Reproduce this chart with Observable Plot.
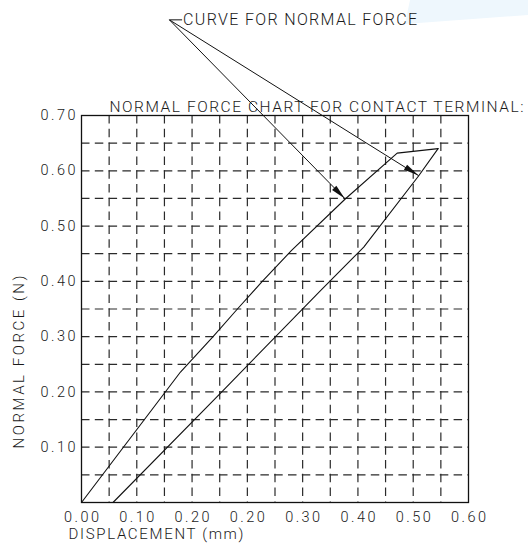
<!DOCTYPE html>
<html><head><meta charset="utf-8">
<script src="https://cdn.jsdelivr.net/npm/d3@7"></script>
<script src="https://cdn.jsdelivr.net/npm/@observablehq/plot@0.6"></script>
<style>
html,body{margin:0;padding:0;background:#fff;}
#wrap{position:relative;width:528px;height:549px;overflow:hidden;}
#tint{position:absolute;left:0;top:0;width:528px;height:40px;background:#eef7fd;clip-path:polygon(410px 0,528px 0,528px 15px,405px 24px);}
#chart{position:absolute;left:0;top:0;}
</style></head><body>
<div id="wrap"><div id="tint"></div><div id="chart"></div></div>
<script>
// Loading branch (upper-left curve) and unloading branch (lower-right line), read in grid units
const loadX = [0, 0.179, 0.238, 0.282, 0.327, 0.380, 0.477, 0.571, 0.645];
const loadY = [0, 0.236, 0.300, 0.350, 0.400, 0.456, 0.549, 0.632, 0.640];
const unloadX = [0.645, 0.610, 0.5105, 0.431, 0.256, 0.057];
const unloadY = [0.640, 0.591, 0.462, 0.382, 0.2025, 0];

// Grid and ticks
const gridVals = [0.05, 0.10, 0.15, 0.20, 0.25, 0.30, 0.35, 0.40, 0.45, 0.50, 0.55, 0.60, 0.65];
const xTicks = [0, 0.1, 0.2, 0.3, 0.4, 0.5, 0.6, 0.7];
const xTickLabels = ["0.00", "0.10", "0.20", "0.20", "0.30", "0.40", "0.50", "0.60"];
const yTicks = [0.1, 0.2, 0.3, 0.4, 0.5, 0.6, 0.7];
const yTickLabels = ["0.10", "0.20", "0.30", "0.40", "0.50", "0.60", "0.70"];

// Callout: leader origin and arrow tips (data units)
const calloutX = 0.159, calloutY = 0.873, calloutDashEnd = 0.182;
const tipX = [0.477, 0.610];
const tipY = [0.549, 0.591];

const titleText = "NORMAL FORCE CHART FOR CONTACT TERMINAL:";
const calloutText = "CURVE FOR NORMAL FORCE";
const xLabel = "DISPLACEMENT (mm)";
const yLabel = "NORMAL FORCE (N)";

const ink = "#1a1a1a";
const font = "Roboto, 'Liberation Sans', sans-serif";

const chart = Plot.plot({
  width: 528, height: 549,
  marginTop: 115, marginLeft: 81, marginRight: 60, marginBottom: 47,
  x: {domain: [0, 0.7], axis: null},
  y: {domain: [0, 0.7], axis: null},
  style: {fontFamily: font, background: "transparent", color: ink},
  marks: [
    Plot.ruleX(gridVals, {x: d => d, stroke: "#2a2a2a", strokeWidth: 1.2, strokeDasharray: "8.5,5.3"}),
    Plot.ruleY(gridVals, {y: d => d, stroke: "#2a2a2a", strokeWidth: 1.2, strokeDasharray: "8.5,5.3"}),
    Plot.frame({stroke: "#111", strokeWidth: 1.3}),
    Plot.line(loadX, {x: loadX, y: loadY, stroke: "#111", strokeWidth: 1.1}),
    Plot.line(unloadX, {x: unloadX, y: unloadY, stroke: "#111", strokeWidth: 1.1}),
    Plot.link(tipX, {x1: tipX.map(() => calloutX), y1: tipX.map(() => calloutY), x2: tipX, y2: tipY, stroke: "#111", strokeWidth: 1}),
    Plot.link([0], {x1: [calloutX], y1: [calloutY], x2: [calloutDashEnd], y2: [calloutY], stroke: "#111", strokeWidth: 1}),
    Plot.text(xTicks, {x: xTicks, text: xTickLabels, frameAnchor: "bottom", dy: 19, fontSize: 14.5, fill: ink, fontWeight: 300}),
    Plot.text(yTicks, {y: yTicks, text: yTickLabels, frameAnchor: "left", textAnchor: "end", dx: -6, fontSize: 14.5, fill: ink, fontWeight: 300}),
    Plot.text([titleText], {text: d => d, frameAnchor: "top-left", textAnchor: "start", dx: 28, dy: -15, fontSize: 15.5, fill: ink, fontWeight: 300}),
    Plot.text([calloutText], {x: [calloutDashEnd], y: [calloutY], text: d => d, textAnchor: "start", dx: 1, fontSize: 16, fill: ink, fontWeight: 300}),
    Plot.text([xLabel], {text: d => d, frameAnchor: "bottom-left", textAnchor: "start", dx: -13, dy: 36, fontSize: 15, fill: ink, fontWeight: 300}),
    Plot.text([yLabel], {text: d => d, frameAnchor: "bottom-left", textAnchor: "start", rotate: -90, dx: -58, dy: -54, fontSize: 15, fill: ink, fontWeight: 300})
  ]
});

document.getElementById("chart").appendChild(chart);

// Fit the wide CAD-style text lengths
const svg = d3.select(chart);
const lengths = new Map([[titleText, 414], [calloutText, 234], [xLabel, 175], [yLabel, 173]]);
svg.selectAll("text").each(function() {
  const t = this.textContent;
  if (lengths.has(t)) {
    d3.select(this).attr("textLength", lengths.get(t)).attr("lengthAdjust", "spacing");
  } else if (xTickLabels.includes(t) || yTickLabels.includes(t)) {
    d3.select(this).attr("textLength", 35).attr("lengthAdjust", "spacing");
  }
});

// Filled narrow arrowheads at the callout tips, positioned via Plot's scales
const sx = chart.scale("x"), sy = chart.scale("y");
const px0 = sx.apply(calloutX), py0 = sy.apply(calloutY);
tipX.forEach((tx, i) => {
  const px = sx.apply(tx), py = sy.apply(tipY[i]);
  const dx = px - px0, dy = py - py0, L = Math.hypot(dx, dy);
  const ux = dx / L, uy = dy / L, nx = -uy, ny = ux;
  const bx = px - 15 * ux, by = py - 15 * uy, w = 3;
  svg.append("polygon")
    .attr("points", [[px, py], [bx + w * nx, by + w * ny], [bx - w * nx, by - w * ny]].map(p => p.join(",")).join(" "))
    .attr("fill", "#111");
});
</script>
</body></html>
